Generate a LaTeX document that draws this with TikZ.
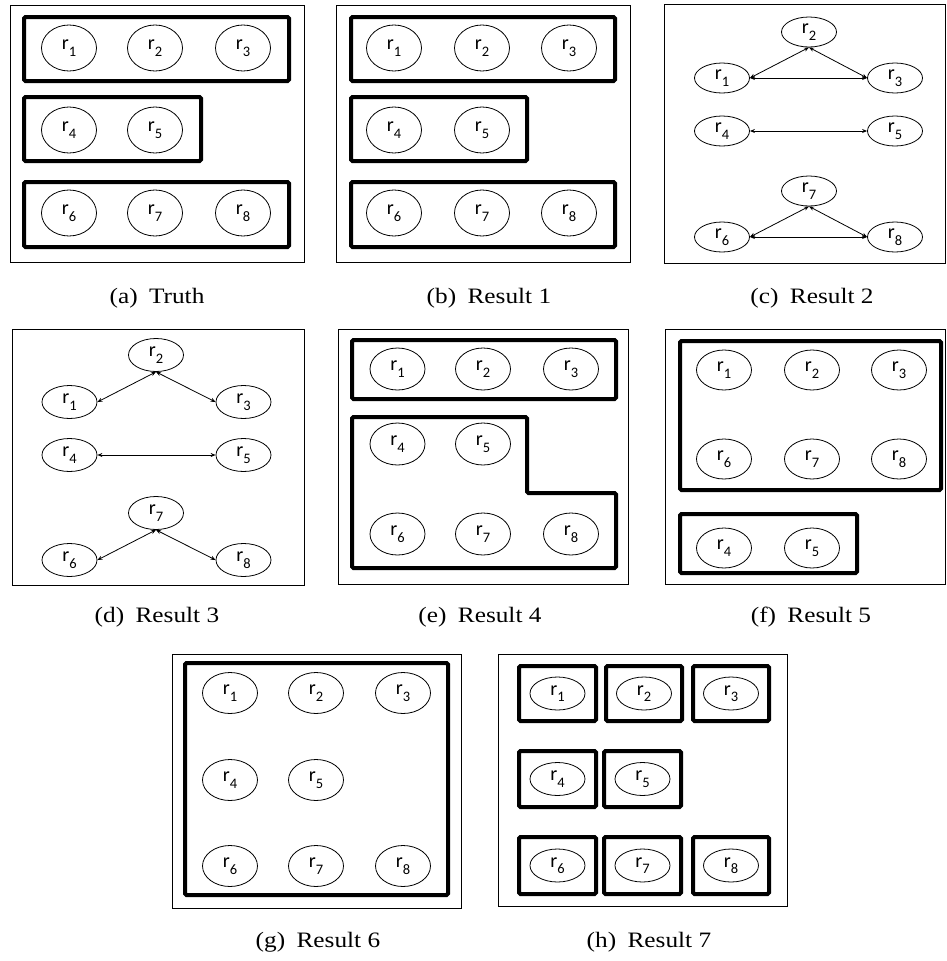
\documentclass[tikz,border=0pt]{standalone}
\usepackage{fontspec}
\usepackage{graphicx}
\setmainfont{Liberation Serif}
\newfontfamily\calfont{Carlito}
\usetikzlibrary{shapes.geometric,arrows.meta}
\newcommand\rlab[1]{{\calfont\fontsize{20}{20}\selectfont r\raisebox{-6.5pt}{\fontsize{14.5}{14.5}\selectfont #1}}}
\newcommand\capt[2]{\scalebox{1.15}[1]{(#1)\hspace{0.45em}#2}}
\begin{document}
\begin{tikzpicture}[x=1pt,y=-1pt,
  ell/.style={ellipse, draw, line width=0.8pt, minimum width=55pt, minimum height=#1, inner sep=0pt},
  ell/.default=46pt,
  frame/.style={draw, line width=1pt},
  grp/.style={draw, line width=4pt, rounded corners=1.5pt},
  bi/.style={line width=0.8pt, {Stealth[length=5pt,width=4pt]}-{Stealth[length=5pt,width=4pt]}},
  captxt/.style={anchor=base, inner sep=0pt, font=\fontsize{22}{22}\selectfont}]
\useasboundingbox (0,0) rectangle (946,961);

% ---------- (a) Truth ----------
\draw[frame] (10,5) rectangle (304,262);
\draw[grp] (24,17) rectangle (289,81);
\draw[grp] (24,97) rectangle (201,161);
\draw[grp] (24,182) rectangle (289,247);
\node[ell=46pt] (a1) at (69,48) {\rlab1};
\node[ell=46pt] (a2) at (155,48) {\rlab2};
\node[ell=46pt] (a3) at (243,48) {\rlab3};
\node[ell=46pt] (a4) at (69,130) {\rlab4};
\node[ell=46pt] (a5) at (155,130) {\rlab5};
\node[ell=46pt] (a6) at (69,213) {\rlab6};
\node[ell=46pt] (a7) at (155,213) {\rlab7};
\node[ell=46pt] (a8) at (243,213) {\rlab8};
\node[captxt] (capa) at (157,303) {\capt{a}{Truth}};

% ---------- (b) Result 1 ----------
\draw[frame] (336,5) rectangle (630,262);
\draw[grp] (351,17) rectangle (615,81);
\draw[grp] (351,97) rectangle (527,161);
\draw[grp] (351,182) rectangle (615,247);
\node[ell=46pt] (b1) at (394,48) {\rlab1};
\node[ell=46pt] (b2) at (482,48) {\rlab2};
\node[ell=46pt] (b3) at (569,48) {\rlab3};
\node[ell=46pt] (b4) at (394,130) {\rlab4};
\node[ell=46pt] (b5) at (482,130) {\rlab5};
\node[ell=46pt] (b6) at (394,213) {\rlab6};
\node[ell=46pt] (b7) at (482,213) {\rlab7};
\node[ell=46pt] (b8) at (569,213) {\rlab8};
\node[captxt] (capb) at (489,303) {\capt{b}{Result 1}};

% ---------- (c) Result 2 ----------
\draw[frame] (664,4) rectangle (945,263);
\node[ell=30pt] (c2) at (809,32) {\rlab2};
\node[ell=30pt] (c1) at (722,78) {\rlab1};
\node[ell=30pt] (c3) at (895,78) {\rlab3};
\node[ell=30pt] (c4) at (722,131) {\rlab4};
\node[ell=30pt] (c5) at (895,131) {\rlab5};
\node[ell=30pt] (c7) at (809,191) {\rlab7};
\node[ell=30pt] (c6) at (722,237) {\rlab6};
\node[ell=30pt] (c8) at (895,237) {\rlab8};
\draw[bi] (c1.east) -- (c2.south);
\draw[bi] (c2.south) -- (c3.west);
\draw[bi] (c1.east) -- (c3.west);
\draw[bi] (c4.east) -- (c5.west);
\draw[bi] (c6.east) -- (c7.south);
\draw[bi] (c7.south) -- (c8.west);
\draw[bi] (c6.east) -- (c8.west);
\node[captxt] (capc) at (812,303) {\capt{c}{Result 2}};

% ---------- (d) Result 3 ----------
\draw[frame] (12,329) rectangle (304,585);
\node[ell=33pt] (d2) at (156,355) {\rlab2};
\node[ell=33pt] (d1) at (69.5,402) {\rlab1};
\node[ell=33pt] (d3) at (243.5,402) {\rlab3};
\node[ell=33pt] (d4) at (69.5,455) {\rlab4};
\node[ell=33pt] (d5) at (243.5,455) {\rlab5};
\node[ell=33pt] (d7) at (156,513) {\rlab7};
\node[ell=33pt] (d6) at (69.5,560) {\rlab6};
\node[ell=33pt] (d8) at (243.5,560) {\rlab8};
\draw[bi] (d1.east) -- (d2.south);
\draw[bi] (d2.south) -- (d3.west);
\draw[bi] (d4.east) -- (d5.west);
\draw[bi] (d6.east) -- (d7.south);
\draw[bi] (d7.south) -- (d8.west);
\node[captxt] (capd) at (157,622) {\capt{d}{Result 3}};

% ---------- (e) Result 4 ----------
\draw[frame] (338,329) rectangle (628,584);
\draw[grp] (352,340) rectangle (616,399);
\draw[grp] (352,417) -- (527,417) -- (527,493) -- (616,493) -- (616,568) -- (352,568) -- cycle;
\node[ell=42pt] (e1) at (397.5,369) {\rlab1};
\node[ell=42pt] (e2) at (483,369) {\rlab2};
\node[ell=42pt] (e3) at (571,369) {\rlab3};
\node[ell=42pt] (e4) at (397.5,444) {\rlab4};
\node[ell=42pt] (e5) at (483,444) {\rlab5};
\node[ell=42pt] (e6) at (397.5,534) {\rlab6};
\node[ell=42pt] (e7) at (483,534) {\rlab7};
\node[ell=42pt] (e8) at (571,534) {\rlab8};
\node[captxt] (cape) at (480,622) {\capt{e}{Result 4}};

% ---------- (f) Result 5 ----------
\draw[frame] (665,329) rectangle (945,584);
\draw[grp] (680,341) rectangle (941,490);
\draw[grp] (680,514) rectangle (857,573);
\node[ell=40pt] (f1) at (724,370) {\rlab1};
\node[ell=40pt] (f2) at (812,370) {\rlab2};
\node[ell=40pt] (f3) at (899,370) {\rlab3};
\node[ell=40pt] (f6) at (724,459) {\rlab6};
\node[ell=40pt] (f7) at (812,459) {\rlab7};
\node[ell=40pt] (f8) at (899,459) {\rlab8};
\node[ell=40pt] (f4) at (724,548) {\rlab4};
\node[ell=40pt] (f5) at (812,548) {\rlab5};
\node[captxt] (capf) at (811,622) {\capt{f}{Result 5}};

% ---------- (g) Result 6 ----------
\draw[frame] (172,654) rectangle (461,908);
\draw[grp] (185,663) rectangle (448,895);
\node[ell=41pt] (g1) at (230,693) {\rlab1};
\node[ell=41pt] (g2) at (316,693) {\rlab2};
\node[ell=41pt] (g3) at (403,693) {\rlab3};
\node[ell=41pt] (g4) at (230,780) {\rlab4};
\node[ell=41pt] (g5) at (316,780) {\rlab5};
\node[ell=41pt] (g6) at (230,866) {\rlab6};
\node[ell=41pt] (g7) at (316,866) {\rlab7};
\node[ell=41pt] (g8) at (403,866) {\rlab8};
\node[captxt] (capg) at (318,947) {\capt{g}{Result 6}};

% ---------- (h) Result 7 ----------
\draw[frame] (498,654) rectangle (787,906);
\draw[grp] (519,666) rectangle (596,721);
\draw[grp] (606,666) rectangle (682,721);
\draw[grp] (693,666) rectangle (769,721);
\draw[grp] (519,751) rectangle (596,807);
\draw[grp] (604,751) rectangle (681,807);
\draw[grp] (519,837) rectangle (596,894);
\draw[grp] (604,837) rectangle (681,894);
\draw[grp] (693,837) rectangle (769,894);
\node[ell=33pt] (h1) at (557.5,693.5) {\rlab1};
\node[ell=33pt] (h2) at (644,693.5) {\rlab2};
\node[ell=33pt] (h3) at (731,693.5) {\rlab3};
\node[ell=33pt] (h4) at (557.5,779) {\rlab4};
\node[ell=33pt] (h5) at (642.5,779) {\rlab5};
\node[ell=33pt] (h6) at (557.5,865.5) {\rlab6};
\node[ell=33pt] (h7) at (642.5,865.5) {\rlab7};
\node[ell=33pt] (h8) at (731,865.5) {\rlab8};
\node[captxt] (caph) at (649,947) {\capt{h}{Result 7}};
\end{tikzpicture}
\end{document}
